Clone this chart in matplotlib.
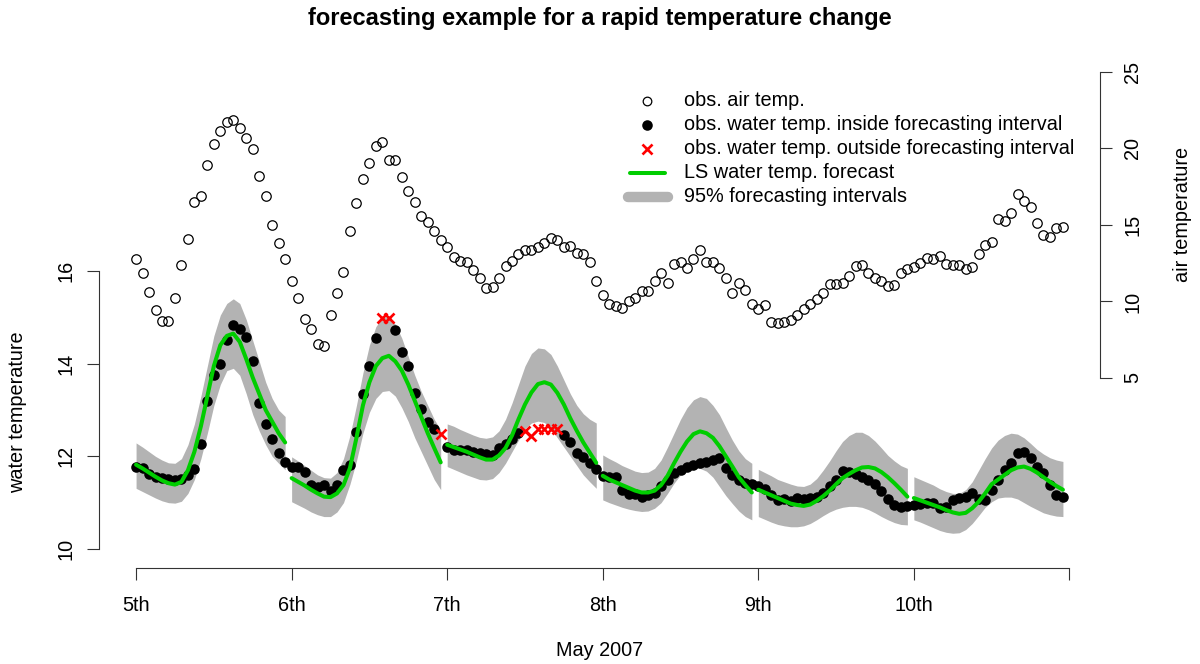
import matplotlib
matplotlib.use("Agg")
import matplotlib.pyplot as plt
import numpy as np
from matplotlib.lines import Line2D

plt.rcParams['font.family'] = ['Liberation Sans', 'DejaVu Sans']

W, H = 1200, 664

# ---------------- data (hourly, starting 5 May 2007 00:00) ----------------
day_ticks = [0, 24, 48, 72, 96, 120, 144]
day_labels = ["5th", "6th", "7th", "8th", "9th", "10th", ""]

air_temp = [
    12.76, 11.88, 10.64, 9.44, 8.75, 8.75, 10.25, 12.39, 14.1, 16.52, 16.9, 18.94,
    20.27, 21.14, 21.73, 21.86, 21.36, 20.67, 19.95, 18.22, 16.9, 15.0, 13.8, 12.76,
    11.36, 10.25, 8.84, 8.22, 7.22, 7.11, 9.14, 10.56, 11.95, 14.59, 16.42, 18.0,
    19.03, 20.14, 20.44, 19.23, 19.23, 18.12, 17.22, 16.5, 15.59, 15.2, 14.61, 14.0,
    13.58, 12.89, 12.67, 12.58, 12.06, 11.56, 10.86, 10.93, 11.56, 12.34, 12.67, 13.08,
    13.37, 13.37, 13.54, 13.8, 14.13, 14.02, 13.56, 13.63, 13.19, 13.08, 12.58, 11.36,
    10.44, 9.84, 9.7, 9.6, 10.05, 10.23, 10.67, 10.67, 11.36, 11.88, 11.19, 12.47,
    12.6, 12.17, 12.78, 13.39, 12.56, 12.58, 12.17, 11.56, 10.56, 11.19, 10.77, 9.84,
    9.53, 9.75, 8.64, 8.57, 8.66, 8.77, 9.14, 9.51, 9.86, 10.16, 10.56, 11.16,
    11.16, 11.23, 11.67, 12.32, 12.39, 11.84, 11.54, 11.34, 11.01, 11.06, 11.84, 12.1,
    12.24, 12.54, 12.82, 12.8, 12.97, 12.45, 12.39, 12.39, 12.1, 12.27, 13.1, 13.69,
    13.87, 15.39, 15.28, 15.8, 17.03, 16.59, 16.16, 15.11, 14.35, 14.24, 14.78, 14.89,
]

water_temp = [
    11.78, 11.74, 11.62, 11.56, 11.54, 11.51, 11.48, 11.51, 11.6, 11.72, 12.26, 13.2,
    13.76, 13.99, 14.52, 14.83, 14.74, 14.58, 14.06, 13.15, 12.7, 12.37, 12.08, 11.87,
    11.78, 11.76, 11.67, 11.38, 11.33, 11.38, 11.26, 11.38, 11.71, 11.82, 12.52, 13.34,
    13.96, 14.55, 14.99, 14.99, 14.72, 14.25, 13.96, 13.37, 13.02, 12.75, 12.59, 12.48,
    12.21, 12.14, 12.13, 12.13, 12.09, 12.08, 12.05, 12.03, 12.18, 12.27, 12.37, 12.5,
    12.55, 12.43, 12.6, 12.6, 12.6, 12.58, 12.46, 12.31, 12.08, 11.98, 11.85, 11.72,
    11.58, 11.56, 11.55, 11.28, 11.19, 11.19, 11.13, 11.17, 11.2, 11.37, 11.48, 11.64,
    11.71, 11.78, 11.82, 11.85, 11.88, 11.92, 11.96, 11.74, 11.6, 11.49, 11.42, 11.4,
    11.35, 11.29, 11.17, 11.06, 11.07, 11.04, 11.1, 11.07, 11.1, 11.12, 11.2, 11.35,
    11.49, 11.69, 11.67, 11.62, 11.55, 11.48, 11.41, 11.26, 11.07, 10.95, 10.91, 10.93,
    10.95, 10.97, 11.0, 10.99, 10.88, 10.91, 11.06, 11.1, 11.13, 11.2, 11.07, 11.06,
    11.28, 11.49, 11.71, 11.85, 12.07, 12.1, 11.96, 11.78, 11.64, 11.38, 11.17, 11.12,
]

# hours whose observed water temperature lies outside the forecasting interval
outside_hours = [38, 39, 47, 60, 61, 62, 63, 64, 65]

forecast = [
    11.82, 11.74, 11.65, 11.56, 11.48, 11.42, 11.39, 11.45, 11.7, 12.1, 12.65, 13.3,
    13.95, 14.4, 14.6, 14.65, 14.47, 14.1, 13.7, 13.35, 13.0, 12.75, 12.5, 12.3,
    11.53, 11.45, 11.37, 11.28, 11.2, 11.13, 11.12, 11.2, 11.38, 11.75, 12.4, 13.1,
    13.6, 13.95, 14.12, 14.17, 14.05, 13.85, 13.55, 13.2, 12.85, 12.5, 12.18, 11.87,
    12.25, 12.2, 12.15, 12.1, 12.04, 11.98, 11.93, 11.93, 12.02, 12.18, 12.45, 12.8,
    13.12, 13.38, 13.56, 13.6, 13.55, 13.37, 13.12, 12.82, 12.55, 12.3, 12.08, 11.86,
    11.58, 11.5, 11.44, 11.38, 11.32, 11.26, 11.22, 11.22, 11.26, 11.38, 11.58, 11.85,
    12.1, 12.32, 12.48, 12.54, 12.5, 12.4, 12.22, 12.0, 11.78, 11.55, 11.38, 11.22,
    11.28, 11.22, 11.16, 11.1, 11.04, 10.98, 10.95, 10.93, 10.96, 11.04, 11.14, 11.26,
    11.4, 11.53, 11.62, 11.7, 11.76, 11.77, 11.74, 11.66, 11.55, 11.42, 11.28, 11.13,
    11.1, 11.05, 11.0, 10.95, 10.9, 10.84, 10.79, 10.76, 10.78, 10.88, 11.02, 11.2,
    11.4, 11.5, 11.6, 11.7, 11.76, 11.78, 11.73, 11.65, 11.55, 11.45, 11.36, 11.28,
]

upper = [
    12.29, 12.2, 12.1, 12.0, 11.92, 11.86, 11.85, 11.95, 12.25, 12.7, 13.3, 13.95,
    14.6, 15.05, 15.3, 15.4, 15.3, 14.95, 14.5, 14.05, 13.6, 13.25, 13.0, 12.86,
    11.99, 11.9, 11.8, 11.7, 11.6, 11.54, 11.53, 11.65, 11.95, 12.45, 13.1, 13.8,
    14.4, 14.8, 15.0, 15.02, 14.85, 14.55, 14.15, 13.75, 13.4, 13.1, 12.8, 12.57,
    12.7, 12.65, 12.58, 12.52, 12.46, 12.41, 12.39, 12.42, 12.55, 12.8, 13.15, 13.55,
    13.95, 14.22, 14.34, 14.32, 14.2, 13.95, 13.65, 13.35, 13.1, 12.92, 12.8, 12.72,
    12.03, 11.95, 11.88, 11.8, 11.74, 11.68, 11.65, 11.66, 11.74, 11.92, 12.2, 12.5,
    12.8, 13.05, 13.22, 13.29, 13.25, 13.1, 12.9, 12.62, 12.35, 12.12, 11.95, 11.85,
    11.72, 11.65, 11.58, 11.5, 11.45, 11.4, 11.36, 11.35, 11.4, 11.52, 11.7, 11.9,
    12.12, 12.32, 12.45, 12.52, 12.52, 12.45, 12.33, 12.18, 12.02, 11.9, 11.8, 11.74,
    11.56, 11.5, 11.44, 11.38, 11.3, 11.24, 11.2, 11.2, 11.28, 11.45, 11.7, 11.95,
    12.18, 12.35, 12.45, 12.5, 12.48, 12.4, 12.28, 12.15, 12.05, 11.97, 11.92, 11.89,
]

lower = [
    11.31, 11.24, 11.17, 11.1, 11.04, 11.0, 10.99, 11.03, 11.2, 11.5, 11.95, 12.5,
    13.1, 13.55, 13.85, 13.9, 13.75, 13.35, 12.9, 12.55, 12.25, 12.0, 11.85, 11.71,
    11.02, 10.95, 10.88, 10.8, 10.74, 10.7, 10.7, 10.8, 11.0, 11.4, 11.9, 12.5,
    12.95, 13.25, 13.4, 13.42, 13.3, 13.05, 12.75, 12.4, 12.1, 11.8, 11.5, 11.28,
    11.78, 11.72, 11.66, 11.6, 11.55, 11.5, 11.49, 11.52, 11.65, 11.85, 12.1, 12.35,
    12.6, 12.72, 12.76, 12.73, 12.6, 12.4, 12.2, 12.0, 11.8, 11.6, 11.45, 11.31,
    11.06, 11.0, 10.95, 10.9, 10.86, 10.83, 10.81, 10.82, 10.88, 11.0, 11.2, 11.42,
    11.6, 11.7, 11.74, 11.74, 11.68, 11.55, 11.35, 11.15, 10.98, 10.82, 10.7, 10.63,
    10.7, 10.64, 10.58, 10.53, 10.5, 10.48, 10.48, 10.5, 10.55, 10.63, 10.72, 10.8,
    10.86, 10.9, 10.92, 10.92, 10.9, 10.85, 10.78, 10.7, 10.63, 10.57, 10.53, 10.52,
    10.63, 10.58, 10.52, 10.46, 10.4, 10.36, 10.34, 10.35, 10.42, 10.55, 10.72, 10.9,
    11.02, 11.1, 11.12, 11.12, 11.08, 11.0, 10.92, 10.85, 10.78, 10.74, 10.71, 10.7,
]

legend_labels = [
    "obs. air temp.",
    "obs. water temp. inside forecasting interval",
    "obs. water temp. outside forecasting interval",
    "LS water temp. forecast",
    "95% forecasting intervals",
]

title = "forecasting example for a rapid temperature change"
xlabel = "May 2007"
ylabel_left = "water temperature"
ylabel_right = "air temperature"

# ---------------- styling ----------------
GREEN = "#00CD00"
GREY = "#B3B3B3"
FS = 14.3
AXC = "#333333"


def fx(x):
    return x / W


def fy(y):
    return 1 - y / H


hours = np.arange(len(water_temp))
water = np.array(water_temp)
air = np.array(air_temp)
fc = np.array(forecast)
up = np.array(upper)
lo = np.array(lower)
is_out = np.isin(hours, outside_hours)

fig = plt.figure(figsize=(W / 100, H / 100), dpi=100)
ax = fig.add_axes([fx(99), fy(568), fx(1100) - fx(99), fy(55) - fy(568)])
n = len(hours) - 1
ax.set_xlim(-0.04 * n, n * 1.04)
ax.set_ylim(9.590, 20.663)

# bands and forecast per day
for d in range(6):
    s = slice(24 * d, 24 * d + 24)
    ax.fill_between(hours[s], lo[s], up[s], color=GREY, linewidth=0, zorder=1)

ax.plot(hours[~is_out], water[~is_out], "o", color="black", ms=7.6, mew=0, zorder=2)
ax.plot(hours[is_out], water[is_out], "x", color="red", ms=7.0, mew=1.9, zorder=2)

for d in range(6):
    s = slice(24 * d, 24 * d + 24)
    ax.plot(hours[s], fc[s], color=GREEN, lw=2.9, solid_capstyle="round", zorder=3)

for sp in ["top", "right"]:
    ax.spines[sp].set_visible(False)
ax.spines["left"].set_bounds(10, 16)
ax.spines["bottom"].set_bounds(day_ticks[0], day_ticks[-1])
for sp in ["left", "bottom"]:
    ax.spines[sp].set_linewidth(0.8)
    ax.spines[sp].set_color(AXC)
ax.set_xticks(day_ticks)
ax.set_xticklabels(day_labels, fontsize=FS)
ax.set_yticks([10, 12, 14, 16])
ax.set_yticklabels(["10", "12", "14", "16"], fontsize=FS, rotation=90, va="center")
ax.tick_params(axis="both", length=8.6, width=0.8, color=AXC)
ax.tick_params(axis="x", pad=11.5)
ax.tick_params(axis="y", pad=8)

# air temperature on secondary axis
ax2 = ax.twinx()
ax2.set_ylim(-7.418, 26.11)
ax2.plot(hours, air, "o", mfc="none", mec="black", ms=6.8, mew=0.9, zorder=4)
for sp in ["top", "left", "bottom"]:
    ax2.spines[sp].set_visible(False)
ax2.spines["right"].set_bounds(5, 25)
ax2.spines["right"].set_linewidth(0.8)
ax2.spines["right"].set_color(AXC)
ax2.set_yticks([5, 10, 15, 20, 25])
ax2.set_yticklabels(["5", "10", "15", "20", "25"], fontsize=FS, rotation=90, va="center")
ax2.tick_params(axis="y", length=8.6, width=0.8, color=AXC, pad=8)

# titles and axis labels
fig.text(fx(600), fy(19), title, fontsize=17, fontweight="bold", ha="center", va="center")
fig.text(fx(600), fy(651), xlabel, fontsize=FS, ha="center", va="center")
fig.text(fx(18), fy(412), ylabel_left, fontsize=FS, ha="center", va="center", rotation=90)
fig.text(fx(1183), fy(214), ylabel_right, fontsize=FS, ha="center", va="center", rotation=90)

# legend (drawn manually, no box)
rows_y = [101, 125, 149, 173, 197]
sym_x = 647
fig.add_artist(Line2D([fx(sym_x)], [fy(rows_y[0])], marker="o", mfc="none", mec="black",
                      ms=6.2, mew=0.9, transform=fig.transFigure))
fig.add_artist(Line2D([fx(sym_x)], [fy(rows_y[1])], marker="o", color="black", mew=0,
                      ms=7.6, transform=fig.transFigure))
fig.add_artist(Line2D([fx(sym_x)], [fy(rows_y[2])], marker="x", color="red", mew=1.9,
                      ms=7.0, transform=fig.transFigure))
fig.add_artist(Line2D([fx(630), fx(665)], [fy(rows_y[3])] * 2, color=GREEN, lw=2.9,
                      solid_capstyle="round", transform=fig.transFigure))
fig.add_artist(Line2D([fx(628), fx(668)], [fy(rows_y[4])] * 2, color=GREY, lw=7.5,
                      solid_capstyle="round", transform=fig.transFigure))
for yy, lab in zip(rows_y, legend_labels):
    fig.text(fx(684), fy(yy), lab, fontsize=FS, ha="left", va="center")

fig.savefig("out.png", dpi=100)
